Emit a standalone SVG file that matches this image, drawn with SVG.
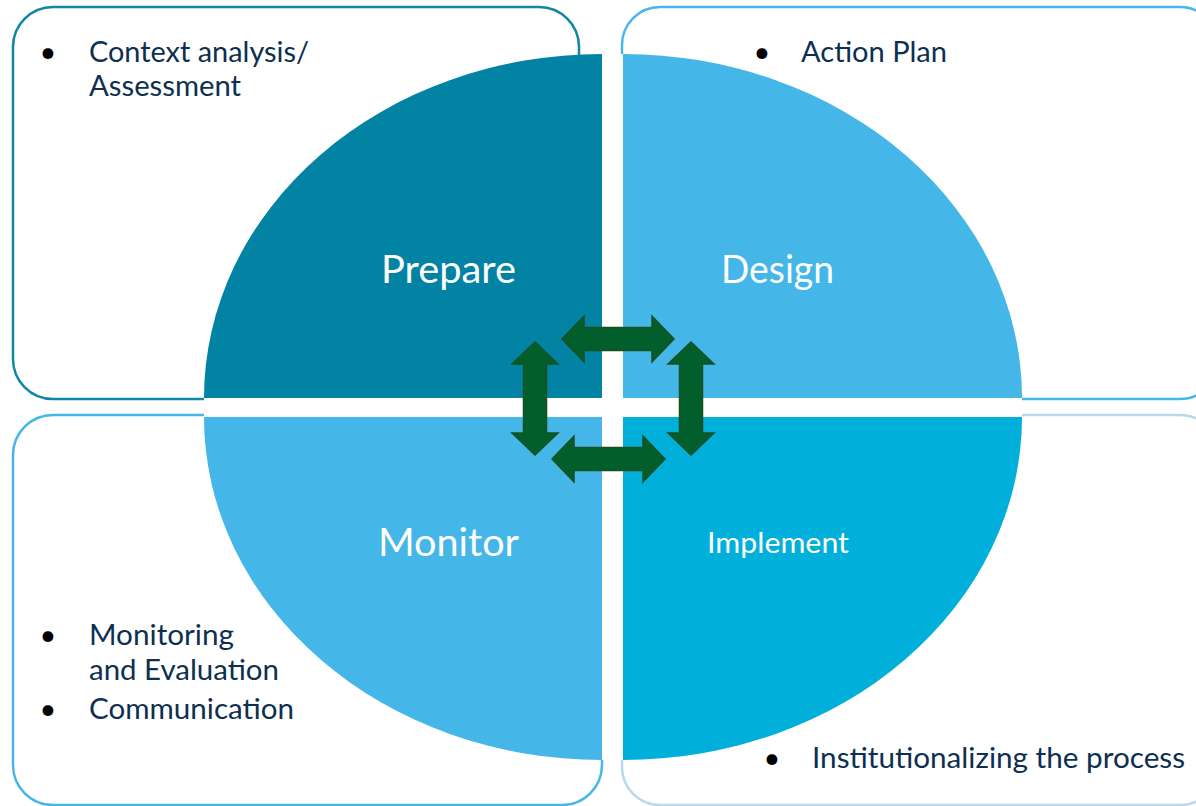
<svg xmlns="http://www.w3.org/2000/svg" width="1196" height="806" viewBox="0 0 1196 806">
<style>
.box{fill:#ffffff;stroke-width:2.5}
.gap{fill:#ffffff}
.body{font-family:Lato,"Liberation Sans",sans-serif;font-size:29px;fill:#0d2f50}
.bul{font-family:Lato,"Liberation Sans",sans-serif;font-size:29px;fill:#000000;text-anchor:middle}
.lbl{font-family:Lato,"Liberation Sans",sans-serif;fill:#ffffff}
.arrow{fill:#025f2b;stroke:#174f22;stroke-width:1.5;stroke-linejoin:miter}
</style>
<rect x="0" y="0" width="1196" height="806" fill="#ffffff"/>
<rect class="box" x="13" y="7" width="566" height="392" rx="40" ry="40" stroke="#0f87a5"/>
<rect class="box" x="622" y="7" width="596" height="392" rx="38" ry="38" stroke="#47b7e9"/>
<rect class="box" x="13" y="415" width="589" height="390" rx="40" ry="40" stroke="#45b6e8"/>
<rect class="box" x="622" y="415" width="596" height="390" rx="38" ry="38" stroke="#b8d8ee"/>
<rect class="gap" x="602" y="54" width="21" height="706"/>
<rect class="gap" x="204" y="398" width="818" height="19"/>
<g id="prepare">
<path d="M 602 398 L 204 398 A 398 344 0 0 1 602 54 Z" fill="#0283a4"/>
<text class="lbl" x="381" y="283" font-size="38" textLength="135" lengthAdjust="spacingAndGlyphs">Prepare</text>
<text class="bul" x="48" y="62">•</text>
<text class="body" x="89" y="62" textLength="220" lengthAdjust="spacingAndGlyphs">Context analysis/</text>
<text class="body" x="89" y="96" textLength="152" lengthAdjust="spacingAndGlyphs">Assessment</text>
</g>
<g id="design">
<path d="M 623 398 L 623 54 A 399 344 0 0 1 1022 398 Z" fill="#45b6e8"/>
<text class="lbl" x="721" y="283" font-size="38" textLength="113" lengthAdjust="spacingAndGlyphs">Design</text>
<text class="bul" x="762" y="62">•</text>
<text class="body" x="801" y="62" textLength="146" lengthAdjust="spacingAndGlyphs">Action Plan</text>
</g>
<g id="monitor">
<path d="M 602 417 L 602 760 A 398 343 0 0 1 204 417 Z" fill="#45b6e8"/>
<text class="lbl" x="378" y="556" font-size="38" textLength="141" lengthAdjust="spacingAndGlyphs">Monitor</text>
<text class="bul" x="48" y="645">•</text>
<text class="body" x="89" y="645" textLength="145" lengthAdjust="spacingAndGlyphs">Monitoring</text>
<text class="body" x="89" y="680" textLength="190" lengthAdjust="spacingAndGlyphs">and Evaluation</text>
<text class="bul" x="48" y="719">•</text>
<text class="body" x="89" y="719" textLength="205" lengthAdjust="spacingAndGlyphs">Communication</text>
</g>
<g id="implement">
<path d="M 623 417 L 1022 417 A 399 343 0 0 1 623 760 Z" fill="#00b0da"/>
<text class="lbl" x="707" y="553" font-size="29" textLength="142" lengthAdjust="spacingAndGlyphs">Implement</text>
<text class="bul" x="772" y="768">•</text>
<text class="body" x="812" y="768" textLength="373" lengthAdjust="spacingAndGlyphs">Institutionalizing the process</text>
</g>
<g id="connectors">
<polygon class="arrow" points="562,339 584,316 584,327.5 652,327.5 652,316 674,339 652,362 652,350.5 584,350.5 584,362"/>
<polygon class="arrow" points="552,459 574,436 574,447.5 643,447.5 643,436 665,459 643,482 643,470.5 574,470.5 574,482"/>
<polygon class="arrow" points="535,342 558,364 546.5,364 546.5,433 558,433 535,455 512,433 523.5,433 523.5,364 512,364"/>
<polygon class="arrow" points="691,342 714,364 702.5,364 702.5,433 714,433 691,455 668,433 679.5,433 679.5,364 668,364"/>
</g>
</svg>
